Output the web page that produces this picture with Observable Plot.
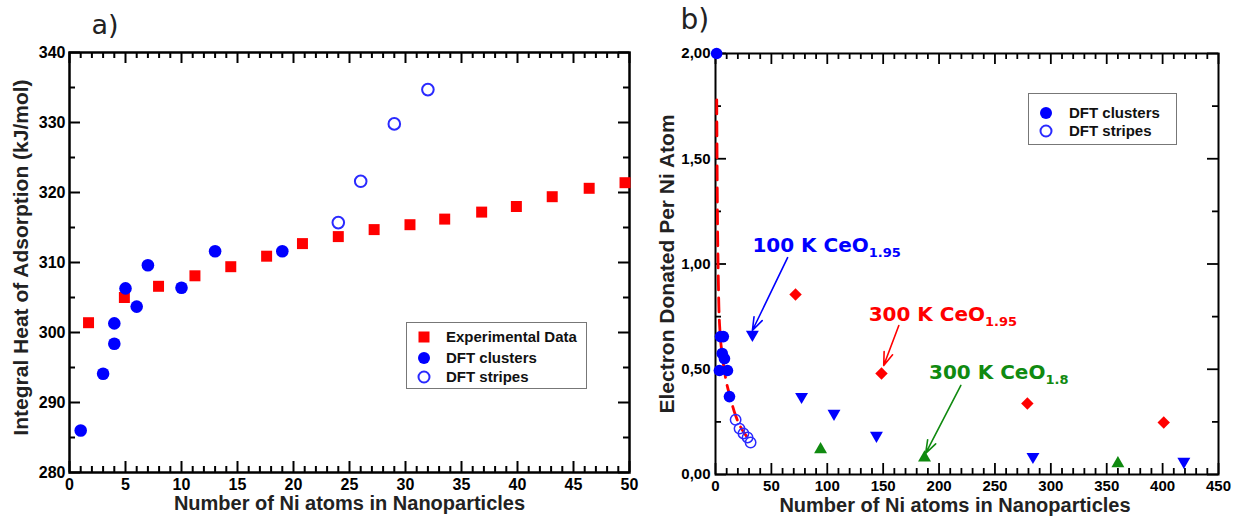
<!DOCTYPE html>
<html>
<head>
<meta charset="utf-8">
<script src="https://cdn.jsdelivr.net/npm/d3@7"></script>
<script src="https://cdn.jsdelivr.net/npm/@observablehq/plot@0.6"></script>
<style>
  body { margin: 0; background: #fff; }
  #wrap { position: relative; width: 1233px; height: 516px; overflow: hidden; background: #fff; }
  .panel { position: absolute; top: 0; }
  .legend { position: absolute; background: #fff; border: 1.5px solid #777; box-sizing: border-box;
            font-family: 'Liberation Sans', Arial, sans-serif; font-weight: bold; font-size: 15px; color: #111; }
  .legend svg { position: absolute; }
  .legend span { position: absolute; white-space: nowrap; }
</style>
</head>
<body>
<div id="wrap"></div>
<script>
// ---------- Panel a data ----------
const aExpX = [1.7, 4.9, 7.95, 11.2, 14.4, 17.6, 20.8, 24.0, 27.2, 30.4, 33.5, 36.8, 39.9, 43.1, 46.4, 49.6];
const aExpY = [301.4, 305.0, 306.6, 308.1, 309.4, 310.9, 312.7, 313.7, 314.7, 315.4, 316.2, 317.2, 318.0, 319.4, 320.6, 321.4];
const aCluX = [1, 3, 4, 4, 5, 6, 7, 10, 13, 19];
const aCluY = [286.0, 294.1, 298.4, 301.3, 306.3, 303.7, 309.6, 306.4, 311.6, 311.6];
const aStrX = [24, 26, 29, 32];
const aStrY = [315.7, 321.6, 329.8, 334.7];
const aXTicks = [0, 5, 10, 15, 20, 25, 30, 35, 40, 45, 50];
const aYTicks = [280, 290, 300, 310, 320, 330, 340];

// ---------- Panel b data ----------
const bCluX = [1, 4.5, 7, 6, 8, 3.5, 10.7, 12.5];
const bCluY = [2.0, 0.655, 0.655, 0.575, 0.55, 0.494, 0.494, 0.37];
const bStrX = [18, 21.5, 25, 28.7, 31.4];
const bStrY = [0.26, 0.218, 0.195, 0.176, 0.152];
const b100X = [33, 77, 106, 144, 284, 419];
const b100Y = [0.665, 0.37, 0.29, 0.185, 0.085, 0.062];
const b300X = [71.6, 148.5, 279, 401];
const b300Y = [0.855, 0.48, 0.337, 0.247];
const b18X = [94, 187, 360];
const b18Y = [0.119, 0.08, 0.052];
const fitX = [1.1, 1.4, 1.8, 2.3, 3, 4, 6, 9, 13, 18, 23, 28];
const fitY = [1.78, 1.5, 1.2, 1.0, 0.8, 0.68, 0.57, 0.46, 0.37, 0.28, 0.22, 0.18];
const bXTicks = [0, 50, 100, 150, 200, 250, 300, 350, 400, 450];
const bYTicks = [0, 0.5, 1.0, 1.5, 2.0];

const annText = ["100 K CeO_1.95", "300 K CeO_1.95", "300 K CeO_1.8"];
const annColor = ["#0000ff", "#ff0000", "#108a10"];
const annX = [33, 137, 191];
const annY = [1.088, 0.760, 0.485];
const arrX1 = [64.5, 164, 219.5];
const arrY1 = [1.03, 0.708, 0.423];
const arrX2 = [33, 150.5, 188];
const arrY2 = [0.684, 0.518, 0.10];

const BLUE = "#0000ff", RED = "#ff0000", GREEN = "#108a10", OPEN = "#2a2aff";
const FONT = "'Liberation Sans', Arial, sans-serif";

const zip = (xs, ys) => xs.map((x, i) => ({x, y: ys[i]}));
const range = (a, b, s) => d3.range(a, b + 1e-9, s);

function boxTicks(xMajor, xMinor, yMajor, yMinor, fw, fh, maj, min, sw) {
  return [
    Plot.tickX(xMajor, {x: d => d, insetTop: fh - maj, strokeWidth: sw}),
    Plot.tickX(xMinor, {x: d => d, insetTop: fh - min, strokeWidth: sw}),
    Plot.tickX(xMajor, {x: d => d, insetBottom: fh - maj, strokeWidth: sw}),
    Plot.tickX(xMinor, {x: d => d, insetBottom: fh - min, strokeWidth: sw}),
    Plot.tickY(yMajor, {y: d => d, insetRight: fw - maj, strokeWidth: sw}),
    Plot.tickY(yMinor, {y: d => d, insetRight: fw - min, strokeWidth: sw}),
    Plot.tickY(yMajor, {y: d => d, insetLeft: fw - maj, strokeWidth: sw}),
    Plot.tickY(yMinor, {y: d => d, insetLeft: fw - min, strokeWidth: sw})
  ];
}

// ---------- Panel a ----------
const A = {W: 640, H: 516, ml: 69, mr: 11, mt: 52, mb: 44};
const aFw = A.W - A.ml - A.mr, aFh = A.H - A.mt - A.mb;
const plotA = Plot.plot({
  width: A.W, height: A.H,
  marginLeft: A.ml, marginRight: A.mr, marginTop: A.mt, marginBottom: A.mb,
  style: {fontFamily: FONT, fontSize: "16px", fontWeight: "bold", background: "transparent", overflow: "visible"},
  x: {domain: [0, 50]},
  y: {domain: [280, 340]},
  marks: [
    ...boxTicks(aXTicks, range(0, 50, 1).filter(d => d % 5), aYTicks, range(285, 335, 10), aFw, aFh, 11, 6, 2),
    Plot.axisX({ticks: aXTicks, tickSize: 0, tickPadding: 6, label: null, fontSize: 16, fontWeight: "bold"}),
    Plot.axisY({ticks: aYTicks, tickSize: 0, tickPadding: 4, label: null, fontSize: 16, fontWeight: "bold"}),
    Plot.frame({stroke: "#000", strokeWidth: 2.5}),
    Plot.dot(zip(aExpX, aExpY), {x: "x", y: "y", symbol: "square", r: 6.2, fill: RED}),
    Plot.dot(zip(aCluX, aCluY), {x: "x", y: "y", r: 6.3, fill: BLUE}),
    Plot.dot(zip(aStrX, aStrY), {x: "x", y: "y", r: 5.8, stroke: OPEN, strokeWidth: 2, fill: "none"}),
    Plot.text(["Number of Ni atoms in Nanoparticles"], {frameAnchor: "bottom", lineAnchor: "middle", dy: 31, text: d => d, fontSize: 20, fontWeight: "bold", fill: "#222"}),
    Plot.text(["Integral Heat of Adsorption (kJ/mol)"], {frameAnchor: "left", textAnchor: "middle", lineAnchor: "middle", dx: -48, dy: -5, rotate: -90, text: d => d, fontSize: 21, fontWeight: "bold", fill: "#222"}),
    Plot.text(["a)"], {frameAnchor: "top-left", lineAnchor: "top", dx: 22, dy: -38, textAnchor: "start", text: d => d, fontSize: 27, fontWeight: "normal", fontFamily: "'DejaVu Sans', sans-serif", fill: "#222"})
  ]
});

// ---------- Panel b ----------
const B = {W: 593, H: 516, ml: 75, mr: 15, mt: 53, mb: 42};
const bFw = B.W - B.ml - B.mr, bFh = B.H - B.mt - B.mb;
const commaFmt = d => d3.format(".2f")(d).replace(".", ",");
const plotB = Plot.plot({
  width: B.W, height: B.H,
  marginLeft: B.ml, marginRight: B.mr, marginTop: B.mt, marginBottom: B.mb,
  style: {fontFamily: FONT, fontSize: "15px", fontWeight: "bold", background: "transparent", overflow: "visible"},
  x: {domain: [0, 450]},
  y: {domain: [0, 2]},
  marks: [
    ...boxTicks(bXTicks, range(0, 450, 10).filter(d => d % 50), bYTicks, range(0.25, 1.75, 0.5), bFw, bFh, 11, 6, 1.8),
    Plot.axisX({ticks: bXTicks, tickSize: 0, tickPadding: 6, label: null, fontSize: 15, fontWeight: "bold"}),
    Plot.axisY({ticks: bYTicks, tickSize: 0, tickPadding: 5, label: null, tickFormat: commaFmt, fontSize: 15, fontWeight: "bold"}),
    Plot.frame({stroke: "#000", strokeWidth: 2}),
    Plot.line(zip(fitX, fitY), {x: "x", y: "y", stroke: RED, strokeWidth: 2.8, strokeDasharray: "14,8", curve: "monotone-x"}),
    Plot.dot(zip(bCluX, bCluY), {x: "x", y: "y", r: 5.8, fill: BLUE}),
    Plot.dot(zip(bStrX, bStrY), {x: "x", y: "y", r: 5.2, stroke: OPEN, strokeWidth: 1.5, fill: "#fff", fillOpacity: 0}),
    Plot.dot(zip(b100X, b100Y), {x: "x", y: "y", symbol: "triangle", rotate: 180, r: 4.8, fill: BLUE}),
    Plot.dot(zip(b300X, b300Y), {x: "x", y: "y", symbol: "diamond2", r: 5.6, fill: RED}),
    Plot.dot(zip(b18X, b18Y), {x: "x", y: "y", symbol: "triangle", r: 4.8, fill: GREEN}),
    Plot.arrow(annText.map((t, i) => i), {
      x1: i => arrX1[i], y1: i => arrY1[i], x2: i => arrX2[i], y2: i => arrY2[i],
      stroke: i => annColor[i], strokeWidth: 1.6, headLength: 13, headAngle: 38
    }),
    Plot.text(annText.map((t, i) => i), {
      x: i => annX[i], y: i => annY[i], text: i => annText[i], fill: i => annColor[i],
      textAnchor: "start", fontSize: 20, fontWeight: "bold", fontFamily: "'DejaVu Sans', sans-serif"
    }),
    Plot.text(["Number of Ni atoms in Nanoparticles"], {frameAnchor: "bottom", lineAnchor: "middle", dx: -12, dy: 31, text: d => d, fontSize: 20, fontWeight: "bold", fill: "#222"}),
    Plot.text(["Electron Donated Per Ni Atom"], {frameAnchor: "left", textAnchor: "middle", lineAnchor: "middle", dx: -48, rotate: -90, text: d => d, fontSize: 21, fontWeight: "bold", fill: "#222"}),
    Plot.text(["b)"], {frameAnchor: "top-left", lineAnchor: "top", dx: -35, dy: -44, textAnchor: "start", text: d => d, fontSize: 28, fontWeight: "normal", fontFamily: "'DejaVu Sans', sans-serif", fill: "#222"})
  ]
});

// Subscripts
const NS = "http://www.w3.org/2000/svg";
[plotA, plotB].forEach(svg => {
  svg.querySelectorAll("text").forEach(t => {
    const s = t.textContent;
    if (s.includes("_")) {
      const [main, sub] = s.split("_");
      t.textContent = "";
      const t1 = document.createElementNS(NS, "tspan"); t1.textContent = main;
      const t2 = document.createElementNS(NS, "tspan"); t2.textContent = sub;
      t2.setAttribute("font-size", "13"); t2.setAttribute("dy", "5");
      t.append(t1, t2);
    }
  });
});

const wrap = document.getElementById("wrap");
plotA.classList.add("panel"); plotA.style.left = "0px";
plotB.classList.add("panel"); plotB.style.left = "640px";
wrap.append(plotA, plotB);

// ---------- Legends ----------
function legend(left, top, w, h, items) {
  const div = document.createElement("div");
  div.className = "legend";
  Object.assign(div.style, {left: left + "px", top: top + "px", width: w + "px", height: h + "px"});
  items.forEach(it => {
    const s = d3.create("svg").attr("width", 16).attr("height", 16)
      .style("left", (it.mx - 8) + "px").style("top", (it.my - 8) + "px");
    if (it.kind === "square") s.append("rect").attr("x", 2.5).attr("y", 2.5).attr("width", 11).attr("height", 11).attr("fill", RED);
    if (it.kind === "dot") s.append("circle").attr("cx", 8).attr("cy", 8).attr("r", 6).attr("fill", BLUE);
    if (it.kind === "open") s.append("circle").attr("cx", 8).attr("cy", 8).attr("r", 5.5).attr("fill", "none").attr("stroke", OPEN).attr("stroke-width", 2);
    div.appendChild(s.node());
    const sp = document.createElement("span");
    sp.textContent = it.label;
    Object.assign(sp.style, {left: it.tx + "px", top: (it.my - 9) + "px"});
    div.appendChild(sp);
  });
  wrap.appendChild(div);
}
legend(406, 322, 181, 67, [
  {kind: "square", label: "Experimental Data", mx: 17, my: 14, tx: 39},
  {kind: "dot", label: "DFT clusters", mx: 17, my: 35, tx: 39},
  {kind: "open", label: "DFT stripes", mx: 17, my: 54, tx: 39}
]);
legend(1028, 93, 149, 52, [
  {kind: "dot", label: "DFT clusters", mx: 17, my: 19, tx: 40},
  {kind: "open", label: "DFT stripes", mx: 17, my: 37, tx: 40}
]);
</script>
</body>
</html>
